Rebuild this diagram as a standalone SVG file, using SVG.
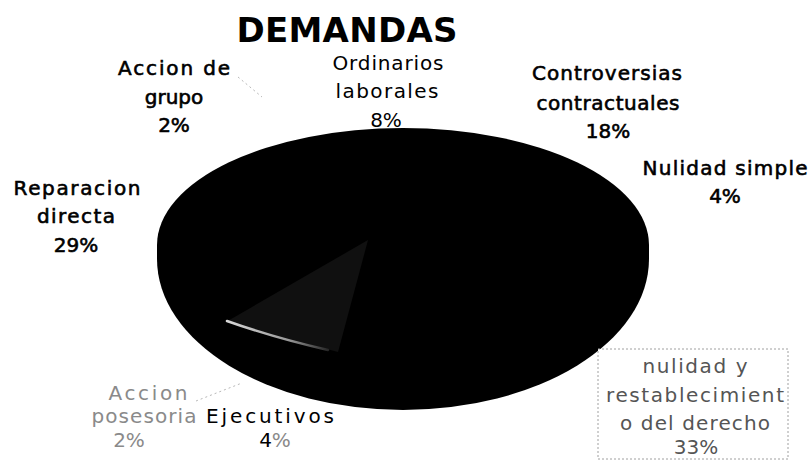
<svg xmlns="http://www.w3.org/2000/svg" width="811" height="470" viewBox="0 0 811 470">
  <defs>
    <style>
      text { font-family: "DejaVu Sans", "Liberation Sans", sans-serif; text-anchor: middle; }
      .title { font-size: 34px; font-weight: bold; fill: #000; }
      .lbl { font-size: 20px; fill: #000; }
      .bold { stroke: #000; stroke-width: 0.6px; }
      .light { fill: #8a8a8a; }
      .mid { fill: #555; }
      .lead { fill: none; stroke: #b8b8b8; stroke-width: 1; stroke-dasharray: 2 3; }
    </style>
    <linearGradient id="streak" x1="227" y1="320" x2="330" y2="350" gradientUnits="userSpaceOnUse">
      <stop offset="0" stop-color="#d8d8d8"/>
      <stop offset="0.6" stop-color="#9a9a9a"/>
      <stop offset="1" stop-color="#222"/>
    </linearGradient>
  </defs>
  <rect width="811" height="470" fill="#fff"/>

  <g id="pie">
    <path d="M157,245 A246,117 0 0 1 649,245 L649,259 A246,151 0 0 1 157,259 Z" fill="#000"/>
    <path d="M226,322 L368,240 L338,352 Z" fill="#101010"/>
    <path d="M227,321 Q275,338 328,350" fill="none" stroke="url(#streak)" stroke-width="2.5" stroke-linecap="round"/>
  </g>

  <g id="connectors">
    <path class="lead" d="M196,401 L242,383"/>
    <path class="lead" d="M238,77 L262,97"/>
  </g>

  <g id="title">
    <text class="title" x="347" y="42" textLength="221">DEMANDAS</text>
  </g>

  <g id="accion-de-grupo">
    <text class="lbl bold" x="174" y="75" textLength="112">Accion de</text>
    <text class="lbl bold" x="174" y="104">grupo</text>
    <text class="lbl bold" x="174" y="132">2%</text>
  </g>

  <g id="ordinarios-laborales">
    <text class="lbl" x="388" y="70" textLength="111">Ordinarios</text>
    <text class="lbl" x="387" y="98" textLength="103">laborales</text>
    <text class="lbl" x="386" y="127">8%</text>
  </g>

  <g id="controversias-contractuales">
    <text class="lbl bold" x="607" y="80" textLength="150">Controversias</text>
    <text class="lbl bold" x="608" y="110" textLength="143">contractuales</text>
    <text class="lbl bold" x="608" y="138">18%</text>
  </g>

  <g id="nulidad-simple">
    <text class="lbl bold" x="725" y="175" textLength="165">Nulidad simple</text>
    <text class="lbl bold" x="725" y="203">4%</text>
  </g>

  <g id="reparacion-directa">
    <text class="lbl bold" x="77" y="195" textLength="127">Reparacion</text>
    <text class="lbl bold" x="76" y="223" textLength="78">directa</text>
    <text class="lbl bold" x="76" y="252">29%</text>
  </g>

  <g id="accion-posesoria">
    <text class="lbl light" x="148" y="400" textLength="79">Accion</text>
    <text class="lbl light" x="144" y="423" textLength="105">posesoria</text>
    <text class="lbl light" x="129" y="447">2%</text>
  </g>

  <g id="ejecutivos">
    <text class="lbl" x="270" y="423" textLength="128">Ejecutivos</text>
    <text class="lbl" x="275" y="447" fill="#000"><tspan>4</tspan><tspan class="light">%</tspan></text>
  </g>

  <g id="nulidad-restablecimiento">
    <rect x="598" y="349" width="190" height="110" fill="#fff" stroke="#a0a0a0" stroke-width="1" stroke-dasharray="2 2"/>
    <text class="lbl mid" x="695" y="373" textLength="105">nulidad y</text>
    <text class="lbl mid" x="695" y="402" textLength="178">restablecimient</text>
    <text class="lbl mid" x="695" y="430" textLength="150">o del derecho</text>
    <text class="lbl mid" x="696" y="454">33%</text>
  </g>
</svg>
